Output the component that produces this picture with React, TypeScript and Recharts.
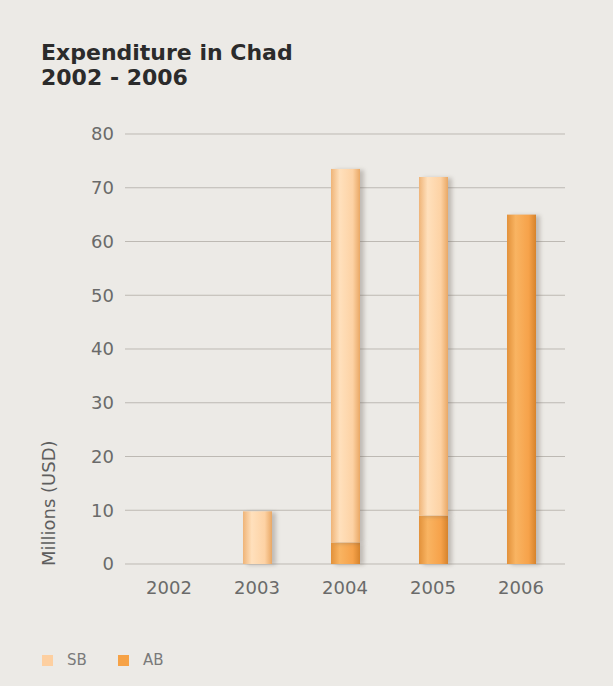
import React from 'react';
import { BarChart, Bar, XAxis, YAxis, CartesianGrid, Legend, Label } from 'recharts';

const years = ['2002', '2003', '2004', '2005', '2006'];
const abValues = [0, 0, 4, 9, 65];
const sbValues = [0, 9.8, 69.5, 63, 0];
const yTicks = [0, 10, 20, 30, 40, 50, 60, 70, 80];
const legendItems = [
  { key: 'SB', label: 'SB', color: '#FDCFA0' },
  { key: 'AB', label: 'AB', color: '#F6A246' },
];

const data = years.map((year, i) => ({ year, AB: abValues[i], SB: sbValues[i] }));

const FONT = '"DejaVu Sans", Verdana, sans-serif';

const palette: Record<string, { edge: string; mid: string; base: string; dark: string }> = {
  SB: { edge: '#EFB478', mid: '#FFE0BC', base: '#FDD2A4', dark: '#E9A865' },
  AB: { edge: '#E2913A', mid: '#F9B462', base: '#F6A24A', dark: '#D6832C' },
};

function makeShape(kind: string) {
  return (props: any) => {
    const { x, y, width, height, index } = props;
    if (!height || height <= 0) return <g />;
    const c = palette[kind];
    const id = `${kind}-${index}`;
    return (
      <g>
        <defs>
          <linearGradient id={`g-${id}`} x1="0" y1="0" x2="1" y2="0">
            <stop offset="0" stopColor={c.edge} />
            <stop offset="0.3" stopColor={c.mid} />
            <stop offset="0.75" stopColor={c.base} />
            <stop offset="1" stopColor={c.dark} />
          </linearGradient>
          <filter id={`f-${id}`} x="-50%" y="-20%" width="200%" height="140%">
            <feGaussianBlur stdDeviation="2" />
          </filter>
        </defs>
        <rect x={x + 4} y={y + 1} width={width} height={height} fill="#6f655c" opacity={0.35} filter={`url(#f-${id})`} />
        <rect x={x} y={y} width={width} height={height} fill={`url(#g-${id})`} />
      </g>
    );
  };
}

const renderLegend = () => (
  <div style={{ position: 'relative', width: 200, height: 20, fontFamily: FONT, fontSize: 15, color: '#7a7a7a' }}>
    {legendItems.map((item, i) => (
      <div key={item.key} style={{ position: 'absolute', left: i * 76, top: 0, height: 20, display: 'flex', alignItems: 'center' }}>
        <span style={{ display: 'inline-block', width: 11, height: 11, background: item.color, marginRight: 14 }} />
        <span>{item.label}</span>
      </div>
    ))}
  </div>
);

const YLabel = () => (
  <text
    x={55}
    y={566}
    transform="rotate(-90 55 566)"
    textAnchor="start"
    fontFamily={FONT}
    fontSize={18}
    fill="#5e5e5e"
  >
    Millions (USD)
  </text>
);

export default function App() {
  return (
    <div style={{ position: 'absolute', left: 0, top: 0, width: 613, height: 686, background: '#ECEAE6', overflow: 'hidden' }}>
      <div
        style={{
          position: 'absolute',
          left: 41,
          top: 40,
          fontFamily: FONT,
          fontWeight: 'bold',
          fontSize: 22,
          lineHeight: '25px',
          color: '#2b2b2b',
        }}
      >
        <div>Expenditure in Chad</div>
        <div>2002 - 2006</div>
      </div>
      <div style={{ position: 'absolute', left: 0, top: 0 }}>
        <BarChart width={613} height={686} data={data} margin={{ top: 134, right: 48, bottom: 72, left: 65 }}>
          <CartesianGrid vertical={false} stroke="#BDB9B3" strokeWidth={1} />
          <XAxis
            dataKey="year"
            axisLine={false}
            tickLine={false}
            tickSize={15}
            height={30}
            tick={{ fontFamily: FONT, fontSize: 18, fill: '#6a6a6a' }}
          />
          <YAxis
            width={60}
            domain={[0, 80]}
            ticks={yTicks}
            axisLine={false}
            tickLine={false}
            tickSize={9}
            tick={{ fontFamily: FONT, fontSize: 18, fill: '#6a6a6a' }}
          >
            <Label content={<YLabel />} />
          </YAxis>
          <Legend
            content={renderLegend}
            wrapperStyle={{ position: 'absolute', left: 42, top: 650, width: 200, height: 20 }}
          />
          <Bar dataKey="AB" stackId="a" barSize={29} fill="#F6A246" shape={makeShape('AB')} isAnimationActive={false} />
          <Bar dataKey="SB" stackId="a" barSize={29} fill="#FDCFA0" shape={makeShape('SB')} isAnimationActive={false} />
        </BarChart>
      </div>
    </div>
  );
}
